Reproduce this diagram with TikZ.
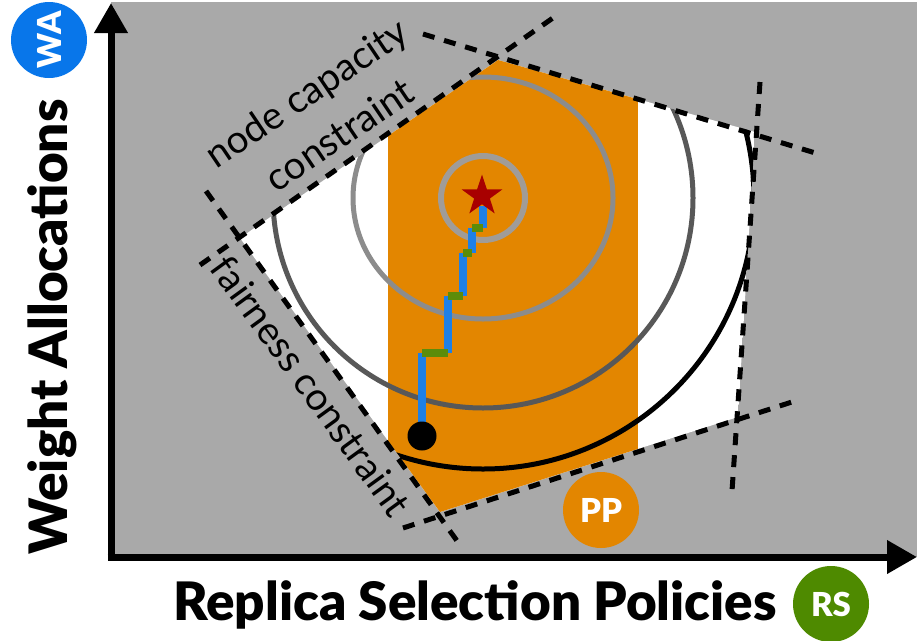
\documentclass[tikz,border=0pt]{standalone}
\usepackage{fontspec}
\setmainfont{Lato}
\newfontfamily\heavyfont{Lato Black}
\usetikzlibrary{arrows.meta, shapes.geometric}
\definecolor{bggray}{RGB}{169,169,169}
\definecolor{ppOrange}{RGB}{227,134,0}
\definecolor{waBlue}{RGB}{8,118,234}
\definecolor{rsGreen}{RGB}{78,138,0}
\definecolor{walkBlue}{RGB}{30,128,230}
\definecolor{walkGreen}{RGB}{92,140,10}
\definecolor{starRed}{RGB}{168,0,0}
\definecolor{ringA}{RGB}{160,156,152}
\definecolor{ringB}{RGB}{140,140,140}
\definecolor{ringC}{RGB}{88,88,88}

\begin{document}
\begin{tikzpicture}[x=1pt,y=-1pt,
    constraint/.style={line width=5pt,dash pattern=on 12pt off 10pt},
    ring/.style={line width=5pt},
    walkup/.style={walkBlue,line width=8pt},
    walkside/.style={walkGreen,line width=8pt},
    badge/.style={circle,minimum size=76pt,inner sep=0pt,text=white,font=\fontsize{33}{33}\selectfont\heavyfont},
    axisline/.style={line width=7pt,-{Triangle[length=30pt,width=32pt]}},
    axislabel/.style={font=\fontsize{53}{53}\selectfont\heavyfont},
    constraintlabel/.style={font=\fontsize{38.5}{38.5}\selectfont}]

    \useasboundingbox (0,0) rectangle (917,640);
    \fill[bggray] (111,2) rectangle (917,557);

    % feasible region
    \coordinate (A) at (240,238);
    \coordinate (B) at (498,60);
    \coordinate (C) at (755,132);
    \coordinate (D) at (738,417);
    \coordinate (E) at (440,512);
    \coordinate (opt) at (483,198);

    \begin{scope}
      \clip (A) -- (B) -- (C) -- (D) -- (E) -- cycle;
      \fill[white] (A) -- (B) -- (C) -- (D) -- (E) -- cycle;
      \fill[ppOrange] (388,0) rectangle (638,640);
      \draw[ring,ringA,line width=6pt] (opt) circle (42);
      \draw[ring,ringB] (opt) ellipse [x radius=130,y radius=121];
      \draw[ring,ringC] (opt) circle (210);
      \draw[ring,black] (opt) circle (271);
    \end{scope}

    \draw[constraint] (200,265) -- (560,13);
    \draw[constraint] (423,34) -- (822,155);
    \draw[constraint] (760,82) -- (732,491);
    \draw[constraint] (403,528) -- (798,400);
    \draw[constraint] (206,191) -- (460,545);

    % walk towards the optimum
    \coordinate (p0) at (422,436);
    \coordinate (p1) at (422,353);
    \coordinate (p2) at (448,353);
    \coordinate (p3) at (448,296);
    \coordinate (p4) at (463,296);
    \coordinate (p5) at (463,253);
    \coordinate (p6) at (472,253);
    \coordinate (p7) at (472,228);
    \coordinate (p8) at (483,228);
    \coordinate (p9) at (483,206);
    \draw[walkup] (p0) -- (p1) (p2) -- (p3) (p4) -- (p5) (p6) -- (p7) (p8) -- (p9);
    \draw[walkside] (p1) -- (p2) (p3) -- (p4) (p5) -- (p6) (p7) -- (p8);

    \node[circle,fill=black,minimum size=29pt,inner sep=0pt] (start) at (p0) {};
    \node[star,star points=5,star point ratio=2.6,minimum size=43pt,inner sep=0pt,fill=starRed] (goal) at (482,196) {};

    \node[constraintlabel,rotate=34,anchor=base] (capA) at (314,104) {node capacity};
    \node[constraintlabel,rotate=34,anchor=base] (capB) at (347,146) {constraint};
    \node[constraintlabel,rotate=-54,anchor=base] (fair) at (300,394) {fairness constraint};

    \draw[axisline] (111,560.5) -- (111,3);
    \draw[axisline] (107.5,557) -- (917,557);
    \node[axislabel,anchor=base] (rsLabel) at (475,620) {Replica Selection Policies};
    \node[axislabel,rotate=90,anchor=base] (waLabel) at (67,327) {Weight Allocations};

    \node[badge,fill=waBlue,rotate=90] (wa) at (49,40) {WA};
    \node[badge,fill=rsGreen] (rs) at (831,604) {RS};
    \node[badge,fill=ppOrange] (pp) at (601,510) {PP};
\end{tikzpicture}
\end{document}
